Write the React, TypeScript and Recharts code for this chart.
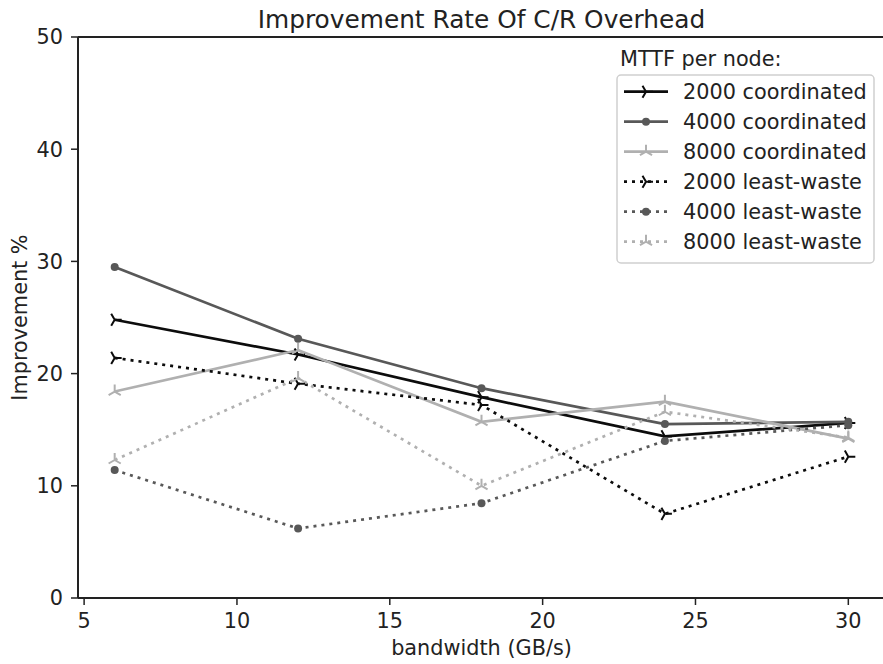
import React from 'react'
import { Label, Legend, Line, LineChart, ReferenceLine, XAxis, YAxis } from 'recharts'

const bandwidth = [6, 12, 18, 24, 30]
const coord2000 = [24.8, 21.7, 17.9, 14.4, 15.6]
const coord4000 = [29.5, 23.1, 18.7, 15.5, 15.7]
const coord8000 = [18.4, 22.1, 15.7, 17.5, 14.2]
const waste2000 = [21.4, 19.1, 17.2, 7.5, 12.6]
const waste4000 = [11.4, 6.2, 8.45, 14.0, 15.4]
const waste8000 = [12.3, 19.6, 10.0, 16.6, 14.3]

const xTicks = [5, 10, 15, 20, 25, 30]
const yTicks = [0, 10, 20, 30, 40, 50]

const FONT = "'DejaVu Sans', sans-serif"
const AXIS = '#222'
const FS = 20.8

type Marker = 'triRight' | 'circle' | 'triUp'

const series: Array<{ key: string; name: string; color: string; dotted: boolean; marker: Marker }> = [
  { key: 'c2000', name: '2000 coordinated', color: '#0c0c0c', dotted: false, marker: 'triRight' },
  { key: 'c4000', name: '4000 coordinated', color: '#585858', dotted: false, marker: 'circle' },
  { key: 'c8000', name: '8000 coordinated', color: '#b0b0b0', dotted: false, marker: 'triUp' },
  { key: 'w2000', name: '2000 least-waste', color: '#0c0c0c', dotted: true, marker: 'triRight' },
  { key: 'w4000', name: '4000 least-waste', color: '#585858', dotted: true, marker: 'circle' },
  { key: 'w8000', name: '8000 least-waste', color: '#b0b0b0', dotted: true, marker: 'triUp' },
]

const data = bandwidth.map((bw, i) => ({
  bw,
  c2000: coord2000[i],
  c4000: coord4000[i],
  c8000: coord8000[i],
  w2000: waste2000[i],
  w4000: waste4000[i],
  w8000: waste8000[i],
}))

function markerShape(kind: Marker, cx: number, cy: number, color: string, key?: string) {
  const r = 7
  if (kind === 'circle') {
    return <circle key={key} cx={cx} cy={cy} r={4} fill={color} stroke="none" />
  }
  const d =
    kind === 'triRight'
      ? `M${cx},${cy}L${cx + r},${cy}M${cx},${cy}L${cx - r * 0.5},${cy - r * 0.866}M${cx},${cy}L${cx - r * 0.5},${cy + r * 0.866}`
      : `M${cx},${cy}L${cx},${cy - r}M${cx},${cy}L${cx - r * 0.866},${cy + r * 0.5}M${cx},${cy}L${cx + r * 0.866},${cy + r * 0.5}`
  return <path key={key} d={d} stroke={color} strokeWidth={2} fill="none" />
}

function LegendBox() {
  return (
    <svg width={262} height={222} style={{ display: 'block', fontFamily: FONT }}>
      <text x={5} y={21} fontSize={FS} fill="#222">
        MTTF per node:
      </text>
      <rect x={2} y={30} width={257} height={188} rx={4} fill="#fff" stroke="#cfcfcf" strokeWidth={1.5} />
      {series.map((s, i) => {
        const cy = 46.7 + i * 30
        return (
          <g key={s.key}>
            <line
              x1={9}
              x2={53}
              y1={cy}
              y2={cy}
              stroke={s.color}
              strokeWidth={2.7}
              strokeDasharray={s.dotted ? '3 5' : undefined}
            />
            {markerShape(s.marker, 31, cy, s.color)}
            <text x={68} y={cy + 7.5} fontSize={FS} fill="#222">
              {s.name}
            </text>
          </g>
        )
      })}
    </svg>
  )
}

export default function App() {
  return (
    <div style={{ position: 'relative', width: 883, height: 664, overflow: 'hidden', background: '#fff' }}>
      <style>{'body{margin:0}'}</style>
      <div
        style={{
          position: 'absolute',
          left: 78,
          top: 7,
          width: 807,
          textAlign: 'center',
          fontFamily: FONT,
          fontSize: 24.8,
          lineHeight: '25px',
          color: '#222',
          whiteSpace: 'nowrap',
        }}
      >
        Improvement Rate Of C/R Overhead
      </div>
      <LineChart width={886} height={664} data={data} margin={{ top: 37, right: 1, bottom: 0, left: 0 }}>
        <XAxis
          dataKey="bw"
          type="number"
          domain={[4.8, 31.2]}
          ticks={xTicks}
          height={66}
          tickSize={7}
          tickMargin={8}
          axisLine={{ stroke: AXIS, strokeWidth: 2 }}
          tickLine={{ stroke: AXIS, strokeWidth: 1.5 }}
          tick={{ fill: '#222', fontSize: FS, fontFamily: FONT }}
        >
          <Label
            content={({ viewBox }: any) => (
              <text
                x={viewBox.x + viewBox.width / 2}
                y={viewBox.y + 57}
                textAnchor="middle"
                fontSize={FS}
                fontFamily={FONT}
                fill="#222"
              >
                bandwidth (GB/s)
              </text>
            )}
          />
        </XAxis>
        <YAxis
          type="number"
          domain={[0, 50]}
          ticks={yTicks}
          width={78}
          tickSize={7}
          tickMargin={8}
          axisLine={{ stroke: AXIS, strokeWidth: 2 }}
          tickLine={{ stroke: AXIS, strokeWidth: 1.5 }}
          tick={{ fill: '#222', fontSize: FS, fontFamily: FONT }}
        >
          <Label
            content={({ viewBox }: any) => {
              const cy = viewBox.y + viewBox.height / 2
              return (
                <text
                  x={27}
                  y={cy}
                  transform={`rotate(-90, 27, ${cy})`}
                  textAnchor="middle"
                  fontSize={FS}
                  fontFamily={FONT}
                  fill="#222"
                >
                  Improvement %
                </text>
              )
            }}
          />
        </YAxis>
        <ReferenceLine y={50} stroke={AXIS} strokeWidth={2} />
        {series.map((s) => (
          <Line
            key={s.key}
            dataKey={s.key}
            name={s.name}
            type="linear"
            stroke={s.color}
            strokeWidth={2.7}
            strokeDasharray={s.dotted ? '3 5' : undefined}
            dot={(p: any) => markerShape(s.marker, p.cx, p.cy, s.color, `${s.key}-${p.index}`)}
            activeDot={false}
            isAnimationActive={false}
          />
        ))}
        <Legend
          layout="vertical"
          align="center"
          verticalAlign="middle"
          wrapperStyle={{ left: 615, top: 45, width: 262, height: 222 }}
          content={() => <LegendBox />}
        />
      </LineChart>
    </div>
  )
}
